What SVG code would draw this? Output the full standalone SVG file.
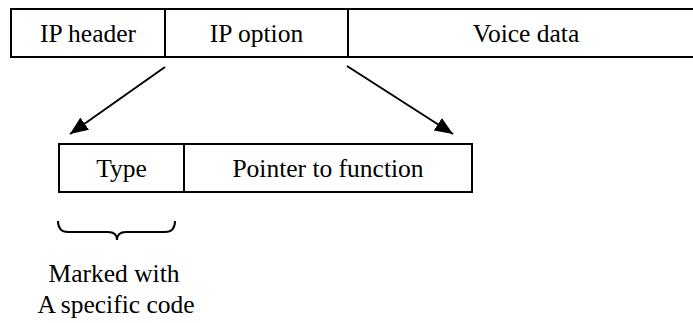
<svg xmlns="http://www.w3.org/2000/svg" width="693" height="323" viewBox="0 0 693 323">
  <style>
    .cell { fill: #ffffff; stroke: #000000; stroke-width: 2; }
    .lbl { font-family: 'Liberation Serif', 'Times New Roman', Times, serif; font-size: 25.5px; fill: #000000; text-anchor: middle; }
    .conn { stroke: #000000; stroke-width: 2; fill: none; }
  </style>
  <defs>
    <marker id="arrowhead" markerUnits="userSpaceOnUse" markerWidth="19" markerHeight="16" refX="18" refY="7.5" orient="auto">
      <path d="M0,0 L18,7.5 L0,15 Z" fill="#000000"/>
    </marker>
  </defs>
  <rect width="693" height="323" fill="#ffffff"/>

  <!-- packet: header, option, payload -->
  <g id="ip-header">
    <rect class="cell" x="11" y="9" width="154" height="48"/>
    <text class="lbl" x="88" y="42">IP header</text>
  </g>
  <g id="ip-option">
    <rect class="cell" x="165" y="9" width="183" height="48"/>
    <text class="lbl" x="256.5" y="42">IP option</text>
  </g>
  <g id="voice-data">
    <rect class="cell" x="348" y="9" width="360" height="48"/>
    <text class="lbl" x="526" y="42">Voice data</text>
  </g>

  <!-- option layout -->
  <g id="type">
    <rect class="cell" x="59" y="144" width="125" height="48"/>
    <text class="lbl" x="121.5" y="177">Type</text>
  </g>
  <g id="pointer">
    <rect class="cell" x="184" y="144" width="288" height="48"/>
    <text class="lbl" x="328" y="177">Pointer to function</text>
  </g>

  <g id="connectors">
    <line class="conn" x1="165" y1="67" x2="70" y2="134" marker-end="url(#arrowhead)"/>
    <line class="conn" x1="347" y1="66" x2="453" y2="134" marker-end="url(#arrowhead)"/>
  </g>

  <!-- brace under the type field -->
  <g id="type-note">
    <path class="conn" d="M58,221 Q58,232 68,232 L108,232 Q117,232 117,240 Q117,232 126,232 L165,232 Q175,232 175,221"/>
    <text class="lbl" x="114" y="282">Marked with</text>
    <text class="lbl" x="116" y="313">A specific code</text>
  </g>
</svg>
